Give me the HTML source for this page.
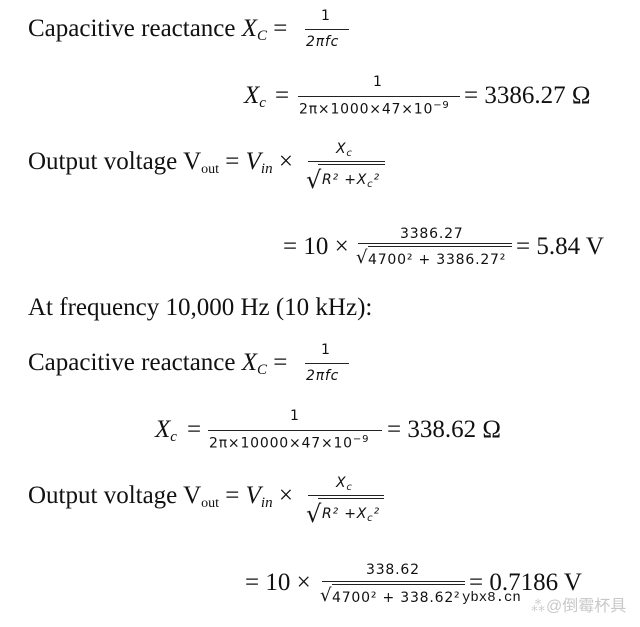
<!DOCTYPE html>
<html><head><meta charset="utf-8"><style>
body{margin:0;width:640px;height:627px;background:#fff;position:relative;overflow:hidden;color:#111}
.t{position:absolute;font-family:"Liberation Serif",serif;font-size:25px;line-height:1;white-space:nowrap}
.s{position:absolute;font-family:"DejaVu Sans",sans-serif;font-size:14px;letter-spacing:0.8px;line-height:1;white-space:nowrap}
.i{font-style:italic}
.b{position:absolute;height:1.3px;background:#222}
sub{font-size:15px;vertical-align:-4px}
.sq{position:absolute;font-family:"DejaVu Sans",sans-serif;line-height:1}
</style></head><body>
<!-- block 1 -->
<div class="t" style="left:28px;top:16px">Capacitive reactance <span class="i">X<sub>C</sub></span> =</div>
<div class="s" style="left:321px;top:9px">1</div>
<div class="b" style="left:305px;top:29px;width:44px"></div>
<div class="s i" style="left:306px;top:35px">2πfc</div>

<div class="t i" style="left:244px;top:83px">X<sub>c</sub></div>
<div class="t" style="left:275px;top:83px">=</div>
<div class="s" style="left:373px;top:75px">1</div>
<div class="b" style="left:298px;top:96px;width:162px"></div>
<div class="s" style="left:299px;top:101px">2π×1000×47×10<sup style="font-size:10px">−9</sup></div>
<div class="t" style="left:464px;top:83px">= 3386.27 Ω</div>

<div class="t" style="left:28px;top:149px">Output voltage V<sub style="font-size:14px">out</sub> = <span class="i">V<sub>in</sub></span> ×</div>
<div class="s i" style="left:336px;top:142px">X<sub style="font-size:10px;vertical-align:-3px">c</sub></div>
<div class="b" style="left:308px;top:161px;width:77px"></div>
<div class="b" style="left:318px;top:164px;width:67px"></div>
<div class="sq" style="left:306px;top:168px;font-size:24px">√</div>
<div class="s i" style="left:322px;top:173px">R² +X<sub style="font-size:10px;vertical-align:-3px">c</sub>²</div>

<div class="t" style="left:283px;top:234px">= 10 ×</div>
<div class="s" style="left:400px;top:227px">3386.27</div>
<div class="b" style="left:358px;top:243px;width:154px"></div>
<div class="b" style="left:368px;top:246px;width:144px"></div>
<div class="sq" style="left:356px;top:249px;font-size:18px">√</div>
<div class="s" style="left:368px;top:253px">4700² + 3386.27²</div>
<div class="t" style="left:516px;top:234px">= 5.84 V</div>

<div class="t" style="left:28px;top:295px">At frequency 10,000 Hz (10 kHz):</div>

<!-- block 2 -->
<div class="t" style="left:28px;top:350px">Capacitive reactance <span class="i">X<sub>C</sub></span> =</div>
<div class="s" style="left:321px;top:343px">1</div>
<div class="b" style="left:305px;top:363px;width:44px"></div>
<div class="s i" style="left:306px;top:369px">2πfc</div>

<div class="t i" style="left:155px;top:417px">X<sub>c</sub></div>
<div class="t" style="left:187px;top:417px">=</div>
<div class="s" style="left:290px;top:409px">1</div>
<div class="b" style="left:208px;top:430px;width:174px"></div>
<div class="s" style="left:209px;top:435px">2π×10000×47×10<sup style="font-size:10px">−9</sup></div>
<div class="t" style="left:387px;top:417px">= 338.62 Ω</div>

<div class="t" style="left:28px;top:483px">Output voltage V<sub style="font-size:14px">out</sub> = <span class="i">V<sub>in</sub></span> ×</div>
<div class="s i" style="left:336px;top:476px">X<sub style="font-size:10px;vertical-align:-3px">c</sub></div>
<div class="b" style="left:308px;top:495px;width:76px"></div>
<div class="b" style="left:318px;top:498px;width:66px"></div>
<div class="sq" style="left:306px;top:502px;font-size:24px">√</div>
<div class="s i" style="left:322px;top:507px">R² +X<sub style="font-size:10px;vertical-align:-3px">c</sub>²</div>

<div class="t" style="left:245px;top:570px">= 10 ×</div>
<div class="s" style="left:366px;top:563px">338.62</div>
<div class="b" style="left:322px;top:581px;width:143px"></div>
<div class="b" style="left:332px;top:584px;width:133px"></div>
<div class="sq" style="left:320px;top:587px;font-size:18px">√</div>
<div class="s" style="left:332px;top:591px">4700² + 338.62²</div>
<div class="t" style="left:469px;top:570px">= 0.7186 V</div>

<div style="position:absolute;left:462px;top:590px;font-family:'Liberation Mono',monospace;font-size:14px;color:#111">ybx8.cn</div>
<div style="position:absolute;left:530px;top:592px;font-family:'Liberation Sans','Noto Sans CJK SC',sans-serif;font-size:16px;color:#c8c8c8">⁂@倒霉杯具</div>
</body></html>
